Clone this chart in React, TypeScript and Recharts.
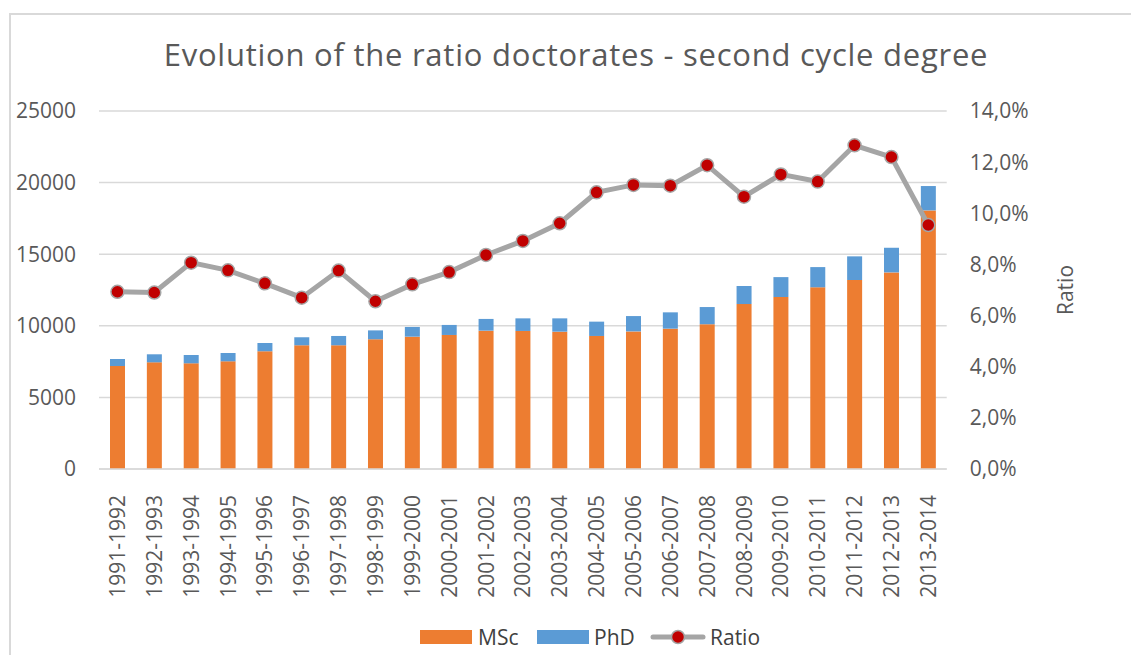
import React from 'react';
import { ComposedChart, Bar, Line, XAxis, YAxis, CartesianGrid, Legend } from 'recharts';

const categories = ['1991-1992','1992-1993','1993-1994','1994-1995','1995-1996','1996-1997','1997-1998','1998-1999','1999-2000','2000-2001','2001-2002','2002-2003','2003-2004','2004-2005','2005-2006','2006-2007','2007-2008','2008-2009','2009-2010','2010-2011','2011-2012','2012-2013','2013-2014'];
const mscValues = [7190, 7450, 7380, 7520, 8220, 8640, 8640, 9060, 9240, 9360, 9660, 9640, 9590, 9290, 9610, 9800, 10110, 11520, 12010, 12690, 13200, 13730, 18060];
const phdValues = [490, 560, 580, 580, 580, 560, 650, 620, 680, 700, 820, 880, 930, 1000, 1070, 1140, 1200, 1260, 1390, 1410, 1650, 1720, 1700];
const ratioValues = [0.0693, 0.069, 0.0807, 0.0777, 0.0726, 0.067, 0.0776, 0.0656, 0.0722, 0.077, 0.0837, 0.0892, 0.0961, 0.1082, 0.1111, 0.1108, 0.1188, 0.1065, 0.1152, 0.1124, 0.1266, 0.122, 0.0954];
const leftTicks = [0, 5000, 10000, 15000, 20000, 25000];
const rightTicks = [0, 0.02, 0.04, 0.06, 0.08, 0.1, 0.12, 0.14];

const data = categories.map((c, i) => ({ name: c, MSc: mscValues[i], PhD: phdValues[i], Ratio: ratioValues[i] }));

const FONT = "'Open Sans', sans-serif";
const TEXT = '#595959';
const GRID = '#d9d9d9';
const ORANGE = '#ed7d31';
const BLUE = '#5b9bd5';
const GREY = '#a5a5a5';
const RED = '#c00000';

const XTick = (props: any) => {
  const { x, y, payload } = props;
  return (
    <text x={x} y={y + 18} transform={`rotate(-90 ${x} ${y + 18})`} textAnchor="end" dy="0.36em"
      fill={TEXT} fontSize={21} fontFamily={FONT}>{payload.value}</text>
  );
};

const LegendContent = () => (
  <div style={{ position: 'relative', height: 24, fontFamily: FONT, fontSize: 21, color: '#404040' }}>
    <div style={{ position: 'absolute', left: 412, top: 5, width: 52, height: 14, background: ORANGE }} />
    <div style={{ position: 'absolute', left: 470, top: -3, lineHeight: '30px' }}>MSc</div>
    <div style={{ position: 'absolute', left: 529, top: 5, width: 52, height: 14, background: BLUE }} />
    <div style={{ position: 'absolute', left: 586, top: -3, lineHeight: '30px' }}>PhD</div>
    <svg style={{ position: 'absolute', left: 642, top: 0 }} width={56} height={24}>
      <line x1={3} y1={12} x2={53} y2={12} stroke={GREY} strokeWidth={5} strokeLinecap="round" />
      <circle cx={28} cy={12} r={6.5} fill={RED} stroke={GREY} strokeWidth={1.5} />
    </svg>
    <div style={{ position: 'absolute', left: 702, top: -3, lineHeight: '30px' }}>Ratio</div>
  </div>
);

export default function App() {
  return (
    <div style={{ position: 'fixed', left: 8, top: 8, width: 1123, height: 647, overflow: 'hidden', background: '#fff' }}>
      <div style={{ position: 'absolute', left: 1, top: 5, width: 1200, height: 800, border: `2px solid ${GRID}`, boxSizing: 'border-box' }} />
      <div style={{ position: 'absolute', left: 0, width: 1136, top: 31, textAlign: 'center', fontFamily: FONT, fontSize: 31, letterSpacing: '0.75px', lineHeight: '31px', color: TEXT, whiteSpace: 'nowrap' }}>
        Evolution of the ratio doctorates - second cycle degree
      </div>
      <div style={{ position: 'absolute', left: 0, top: 0 }}>
        <ComposedChart width={1123} height={647} data={data} margin={{ top: 103, right: 0, bottom: 6, left: 0 }}>
          <CartesianGrid vertical={false} stroke={GRID} strokeWidth={1.5} yAxisId="left" />
          <XAxis dataKey="name" height={156} interval={0} tick={<XTick />} tickLine={false}
            axisLine={{ stroke: GRID, strokeWidth: 1.5 }} />
          <YAxis yAxisId="left" orientation="left" width={91} domain={[0, 25000]} ticks={leftTicks}
            axisLine={false} tickLine={false} tickSize={0} tickMargin={23}
            tick={{ fill: TEXT, fontSize: 21, fontFamily: FONT }} />
          <YAxis yAxisId="right" orientation="right" width={184.3} domain={[0, 0.14]} ticks={rightTicks}
            axisLine={false} tickLine={false} tickSize={0} tickMargin={23}
            tickFormatter={(v: number) => (v * 100).toFixed(1).replace('.', ',') + '%'}
            tick={{ fill: TEXT, fontSize: 21, fontFamily: FONT, textAnchor: 'start' }}
            label={{ value: 'Ratio', angle: -90, position: 'center', dx: 27, fill: TEXT, fontSize: 21, fontFamily: FONT }} />
          <Legend verticalAlign="bottom" height={24} wrapperStyle={{ left: 0, width: 1123 }} content={<LegendContent />} />
          <Bar yAxisId="left" dataKey="MSc" stackId="a" fill={ORANGE} barSize={15} isAnimationActive={false} />
          <Bar yAxisId="left" dataKey="PhD" stackId="a" fill={BLUE} barSize={15} isAnimationActive={false} />
          <Line yAxisId="right" dataKey="Ratio" stroke={GREY} strokeWidth={5} isAnimationActive={false}
            dot={{ r: 6.5, fill: RED, stroke: GREY, strokeWidth: 1.5 }} activeDot={false} />
        </ComposedChart>
      </div>
    </div>
  );
}
